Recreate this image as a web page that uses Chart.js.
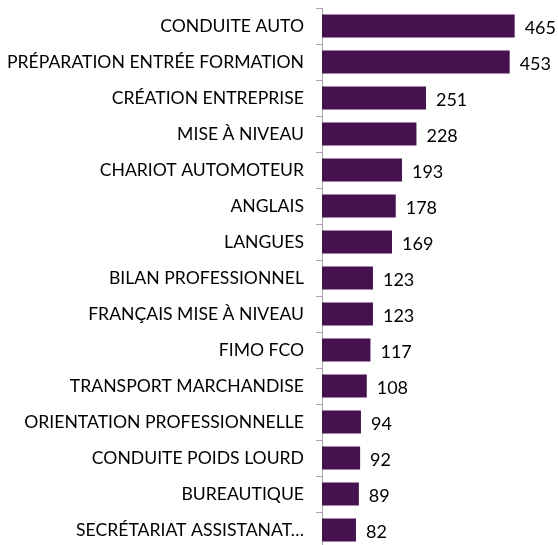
<!DOCTYPE html>
<html><head><meta charset="utf-8">
<script src="https://cdn.jsdelivr.net/npm/chart.js@4.4.1/dist/chart.umd.min.js"></script>
<style>html,body{margin:0;padding:0;background:#fff;overflow:hidden}#wrap{width:558px;height:548px}</style>
</head><body><div id="wrap"><canvas id="c"></canvas></div>
<script>
const categories = ["CONDUITE AUTO","PRÉPARATION ENTRÉE FORMATION","CRÉATION ENTREPRISE","MISE À NIVEAU","CHARIOT AUTOMOTEUR","ANGLAIS","LANGUES","BILAN PROFESSIONNEL","FRANÇAIS MISE À NIVEAU","FIMO FCO","TRANSPORT MARCHANDISE","ORIENTATION PROFESSIONNELLE","CONDUITE POIDS LOURD","BUREAUTIQUE","SECRÉTARIAT ASSISTANAT…"];
const values = [465,453,251,228,193,178,169,123,123,117,108,94,92,89,82];
const FONT = "Lato, 'Liberation Sans', Arial, sans-serif";
const valueLabels = {
  id: 'valueLabels',
  afterDatasetsDraw(chart) {
    const ctx = chart.ctx;
    const meta = chart.getDatasetMeta(0);
    ctx.save();
    ctx.font = '18px ' + FONT;
    ctx.fillStyle = '#000';
    ctx.textBaseline = 'middle';
    ctx.textAlign = 'left';
    meta.data.forEach((bar, i) => {
      ctx.fillText(String(values[i]), bar.x + 10, bar.y + 2);
    });
    ctx.restore();
  }
};
new Chart(document.getElementById('c'), {
  type: 'bar',
  data: { labels: categories, datasets: [{ data: values, backgroundColor: '#46114f', borderWidth: 0, barPercentage: 0.64, categoryPercentage: 1 }] },
  options: {
    indexAxis: 'y', responsive: true, maintainAspectRatio: false, animation: false,
    layout: { padding: { top: 8, bottom: 0, right: 4, left: 0 } },
    plugins: { legend: { display: false }, tooltip: { enabled: false } },
    scales: {
      x: { display: false, min: 0, max: 560 },
      y: {
        afterFit(scale) { scale.width = 322; scale.paddingTop = 0; scale.paddingBottom = 0; },
        grid: { drawOnChartArea: false, drawTicks: true, tickLength: 6, color: '#a6a6a6', offset: true },
        border: { display: true, color: '#a6a6a6', width: 1 },
        ticks: { color: '#000', font: { family: FONT, size: 17.6 }, padding: 12, autoSkip: false }
      }
    }
  },
  plugins: [valueLabels]
});
</script></body></html>
